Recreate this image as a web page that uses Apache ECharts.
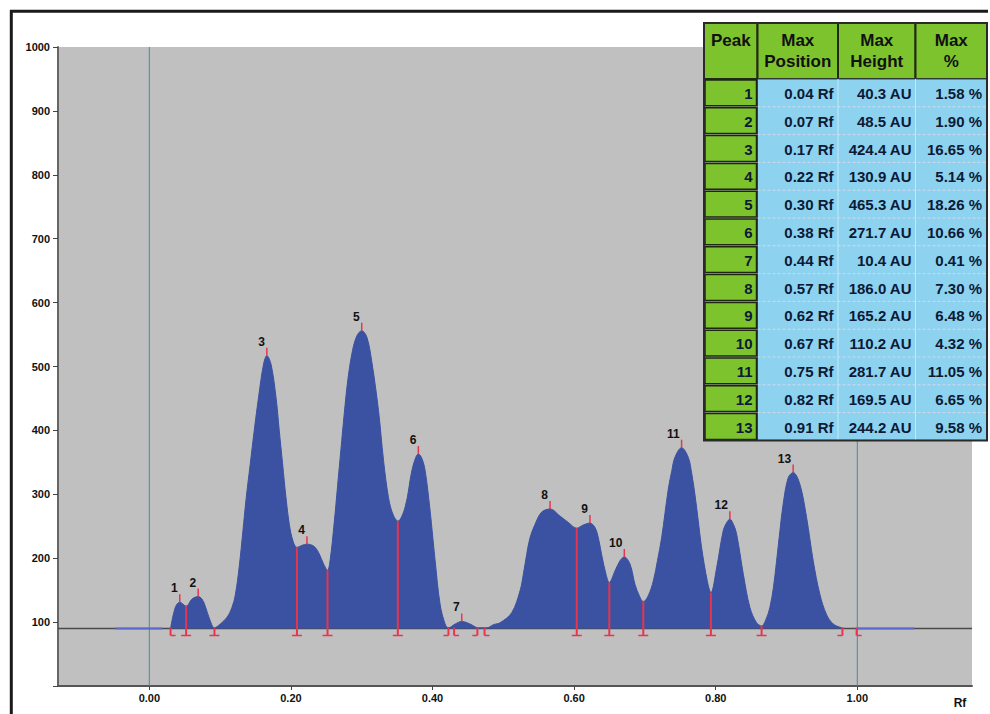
<!DOCTYPE html>
<html><head><meta charset="utf-8">
<script src="https://cdn.jsdelivr.net/npm/echarts@6/dist/echarts.min.js"></script>
<style>html,body{margin:0;padding:0;background:#fff;}#c{width:990px;height:714px;}</style>
</head><body><div id="c"></div>
<script>
// ---- data ----
const curveRf = [0.030,0.0367,0.043,0.052,0.0603,0.069,0.0744,0.079,0.086,0.092,0.1002,0.110,0.1167,0.1214,0.1271,0.1322,0.1369,0.1426,0.1482,0.1543,0.1614,0.166,0.1718,0.1789,0.1835,0.1882,0.193,0.1977,0.2029,0.2085,0.2155,0.2226,0.232,0.239,0.2461,0.2517,0.2555,0.2611,0.2658,0.2706,0.2752,0.2805,0.287,0.2932,0.300,0.3072,0.314,0.3237,0.3308,0.3378,0.344,0.351,0.3613,0.3708,0.3764,0.380,0.385,0.3896,0.3966,0.4037,0.4107,0.4178,0.4225,0.432,0.4413,0.453,0.4648,0.4766,0.486,0.4954,0.512,0.5236,0.5283,0.533,0.5377,0.5448,0.554,0.566,0.580,0.5918,0.6037,0.613,0.6224,0.6295,0.6342,0.6388,0.645,0.6497,0.6577,0.6648,0.6709,0.6789,0.686,0.6922,0.6977,0.705,0.712,0.7177,0.7236,0.733,0.738,0.7424,0.7518,0.7612,0.7662,0.7706,0.7753,0.780,0.788,0.7932,0.8013,0.8106,0.8156,0.820,0.825,0.8295,0.839,0.8483,0.8577,0.8648,0.8709,0.8765,0.8815,0.886,0.8907,0.8953,0.9024,0.9094,0.9188,0.9283,0.9377,0.947,0.9565,0.966,0.9777,0.980];
const curveAU = [90,123,131,125,136,140,136,125,102,91,97,108,123,142,188,243,295,348,400,452,504,517,504,452,400,348,295,253,227,217,220,222,219,209,191,181,198,255,312,370,425,480,525,548,556,546,509,431,353,295,269,258,280,337,358,363,356,337,274,196,128,97,91,97,101,97,91,91,96,99,115,149,175,206,232,253,272,277,266,256,247,252,255,248,232,206,175,162,180,196,202,191,159,141,132,142,165,196,232,308,337,358,373,358,332,300,259,217,165,146,185,243,256,261,253,238,175,123,99,94,104,123,154,196,243,285,326,334,316,264,196,144,112,97,91,90];
const baselineAU = 90;
const traceSegmentsRf = [[-0.048, 0.018], [1.0, 1.08]];
const markerLinesRf = [0, 1.0];

const peakNumbers = [1,2,3,4,5,6,7,8,9,10,11,12,13];
const peakRf = [0.043,0.069,0.166,0.2226,0.300,0.380,0.4413,0.566,0.6224,0.6709,0.7518,0.820,0.9094];
const peakAU = [131,140,517,222,556,363,101,277,255,202,373,261,334];

const boundaryRf = [0.030,0.052,0.092,0.2085,0.2517,0.351,0.4225,0.4305,0.4634,0.4735,0.6037,0.6497,0.6977,0.7932,0.8648,0.979,0.999];
const boundaryTopAU = [90,125,91,217,181,258,90,90,90,90,247,162,132,146,94,90,90];
const boundaryKind = [1,0,0,0,0,0,2,1,2,1,0,0,0,0,0,2,1]; // 0 split, 1 start, 2 end

const tablePositionRf = [0.04,0.07,0.17,0.22,0.30,0.38,0.44,0.57,0.62,0.67,0.75,0.82,0.91];
const tableHeightAU = [40.3,48.5,424.4,130.9,465.3,271.7,10.4,186.0,165.2,110.2,281.7,169.5,244.2];
const tablePercent = [1.58,1.90,16.65,5.14,18.26,10.66,0.41,7.30,6.48,4.32,11.05,6.65,9.58];
const tableHeaders = ['Peak', 'Max\nPosition', 'Max\nHeight', 'Max\n%'];

const xTickValues = [0, 0.2, 0.4, 0.6, 0.8, 1.0];
const xMin = -0.129, xMax = 1.162;
const yMin = 0, yMax = 1000, yStep = 100;

// ---- styles ----
const RED = '#e8354e', BLUE = '#3b51a1', TEAL = '#3a93a2';
const GREEN = '#7dc32d', CELLBLUE = '#8dd2ef', TXT = '#0c1a36';
const FONT = "'Liberation Sans', Arial, sans-serif";

const curveData = curveRf.map((r, i) => [r, curveAU[i]]);
const segData = [];
traceSegmentsRf.forEach((s, i) => { if (i) segData.push('-'); segData.push([s[0], baselineAU], [s[1], baselineAU]); });
const markerData = [];
markerLinesRf.forEach((r, i) => { if (i) markerData.push('-'); markerData.push([r, yMin], [r, yMax]); });

// table graphics
const T = {x: [704, 757.5, 838, 915.5, 987], yTop: 23, yHead: 79, rowH: 27.8};
const g = [];
const tBottom = T.yHead + peakNumbers.length * T.rowH;
for (let c = 0; c < 4; c++) {
  g.push({type: 'rect', shape: {x: T.x[c], y: T.yTop, width: T.x[c+1]-T.x[c], height: T.yHead-T.yTop},
    style: {fill: GREEN, stroke: '#202a14', lineWidth: 2}, z: 100});
  g.push({type: 'text', x: (T.x[c]+T.x[c+1])/2, y: c===0 ? 40 : 51,
    style: {text: tableHeaders[c], font: 'bold 17px ' + FONT, fill: '#111', align: 'center', verticalAlign: 'middle', textAlign: 'center', textVerticalAlign: 'middle', lineHeight: 21}, z: 102});
}
g.push({type: 'rect', shape: {x: T.x[1], y: T.yHead, width: T.x[4]-T.x[1], height: tBottom-T.yHead},
  style: {fill: CELLBLUE, stroke: '#3a4a50', lineWidth: 1}, z: 100});
[T.x[2], T.x[3]].forEach(xx => g.push({type: 'line', shape: {x1: xx, y1: T.yHead, x2: xx, y2: tBottom}, style: {stroke: '#c3e9f7', lineWidth: 1}, z: 101}));
peakNumbers.forEach((p, i) => {
  const y0 = T.yHead + i * T.rowH, yc = y0 + T.rowH/2 + 0.5;
  if (i) g.push({type: 'line', shape: {x1: T.x[1], y1: y0, x2: T.x[4], y2: y0}, style: {stroke: 'rgba(240,220,235,0.7)', lineWidth: 1, lineDash: [3,2]}, z: 101});
  g.push({type: 'rect', shape: {x: T.x[0]+1, y: y0+1, width: T.x[1]-T.x[0]-2, height: T.rowH-2},
    style: {fill: GREEN, stroke: '#1e2811', lineWidth: 1.5}, z: 101});
  const st = (t, x) => ({type: 'text', x: x, y: yc, style: {text: t, font: 'bold 15px ' + FONT, fill: TXT, align: 'right', verticalAlign: 'middle', textAlign: 'right', textVerticalAlign: 'middle'}, z: 103});
  g.push(st(String(p), T.x[1]-5));
  g.push(st(tablePositionRf[i].toFixed(2) + ' Rf', T.x[2]-4.5));
  g.push(st(tableHeightAU[i].toFixed(1) + ' AU', T.x[3]-4));
  g.push(st(tablePercent[i].toFixed(2) + ' %', T.x[4]-5));
});
g.push({type: 'rect', shape: {x: T.x[0], y: T.yTop, width: T.x[4]-T.x[0], height: tBottom-T.yTop}, style: {fill: null, stroke: '#2a2a2a', lineWidth: 2}, z: 104});
// frame
g.push({type: 'line', shape: {x1: 10, y1: 11.3, x2: 988, y2: 11.3}, style: {stroke: '#1a1a1a', lineWidth: 3}, z: 90});
g.push({type: 'line', shape: {x1: 11.3, y1: 10, x2: 11.3, y2: 714}, style: {stroke: '#1a1a1a', lineWidth: 3}, z: 90});
// axis name
g.push({type: 'text', x: 960, y: 703, style: {text: 'Rf', font: 'bold 12px ' + FONT, fill: '#111', align: 'center', verticalAlign: 'middle', textAlign: 'center', textVerticalAlign: 'middle'}, z: 90});

const chart = echarts.init(document.getElementById('c'), null, {renderer: 'svg'});
chart.setOption({
  animation: false,
  backgroundColor: '#ffffff',
  grid: {left: 58, top: 47, right: 18, bottom: 28, show: true, backgroundColor: '#c0c0c0', borderWidth: 0, containLabel: false, outerBoundsMode: 'none'},
  xAxis: {
    type: 'value', min: xMin, max: xMax,
    axisLine: {onZero: false, lineStyle: {color: '#555', width: 2}},
    axisTick: {customValues: xTickValues, length: 4, lineStyle: {color: '#444'}},
    axisLabel: {customValues: xTickValues, formatter: v => v.toFixed(2), fontFamily: FONT, fontWeight: 'bold', fontSize: 11, color: '#111', margin: 6},
    splitLine: {show: false}
  },
  yAxis: {
    type: 'value', min: yMin, max: yMax, interval: yStep,
    axisLine: {show: true, onZero: false, lineStyle: {color: '#666', width: 2}},
    axisTick: {show: true, length: 5, lineStyle: {color: '#444'}},
    axisLabel: {formatter: v => v === 0 ? '' : String(v), fontFamily: FONT, fontWeight: 'bold', fontSize: 11, color: '#111', margin: 8},
    splitLine: {show: false}
  },
  graphic: g,
  series: [
    {type: 'line', data: markerData, showSymbol: false, silent: true, z: 1, connectNulls: false,
      lineStyle: {color: TEAL, width: 1}},
    {type: 'line', data: [[xMin, baselineAU], [xMax, baselineAU]], showSymbol: false, silent: true, z: 1,
      lineStyle: {color: '#4a4a4a', width: 1.5}},
    {type: 'line', data: curveData, showSymbol: false, smooth: 0.35, z: 2,
      lineStyle: {color: BLUE, width: 1}, areaStyle: {color: BLUE, opacity: 1, origin: baselineAU}},
    {type: 'line', data: segData, showSymbol: false, connectNulls: false, z: 3, lineStyle: {color: '#5c6ad0', width: 2}},
    {type: 'custom', z: 4, data: boundaryRf.map((r, i) => [r, boundaryTopAU[i], boundaryKind[i]]),
      renderItem: function (params, api) {
        const rf = api.value(0), top = api.value(1), kind = api.value(2);
        const pb = api.coord([rf, baselineAU]), pt = api.coord([rf, top]);
        const footY = pb[1] + 7;
        let fx1 = pb[0] - 5, fx2 = pb[0] + 5;
        if (kind === 1) { fx1 = pb[0]; fx2 = pb[0] + 5; }
        else if (kind === 2) { fx1 = pb[0] - 5; fx2 = pb[0]; }
        return {type: 'group', children: [
          {type: 'line', shape: {x1: pt[0], y1: Math.min(pt[1], pb[1] - 1), x2: pt[0], y2: footY}, style: {stroke: RED, lineWidth: 2}},
          {type: 'line', shape: {x1: fx1, y1: footY, x2: fx2, y2: footY}, style: {stroke: RED, lineWidth: 1.5}}
        ]};
      }},
    {type: 'custom', z: 5, data: peakRf.map((r, i) => [r, peakAU[i], peakNumbers[i]]),
      renderItem: function (params, api) {
        const p = api.coord([api.value(0), api.value(1)]);
        return {type: 'group', children: [
          {type: 'line', shape: {x1: p[0], y1: p[1] - 8, x2: p[0], y2: p[1]}, style: {stroke: RED, lineWidth: 1.5}},
          {type: 'text', x: p[0] - 2, y: p[1] - 14, style: {text: String(api.value(2)), font: 'bold 12px ' + FONT, fill: '#111', align: 'right', verticalAlign: 'middle', textAlign: 'right', textVerticalAlign: 'middle'}}
        ]};
      }}
  ]
});
</script></body></html>
